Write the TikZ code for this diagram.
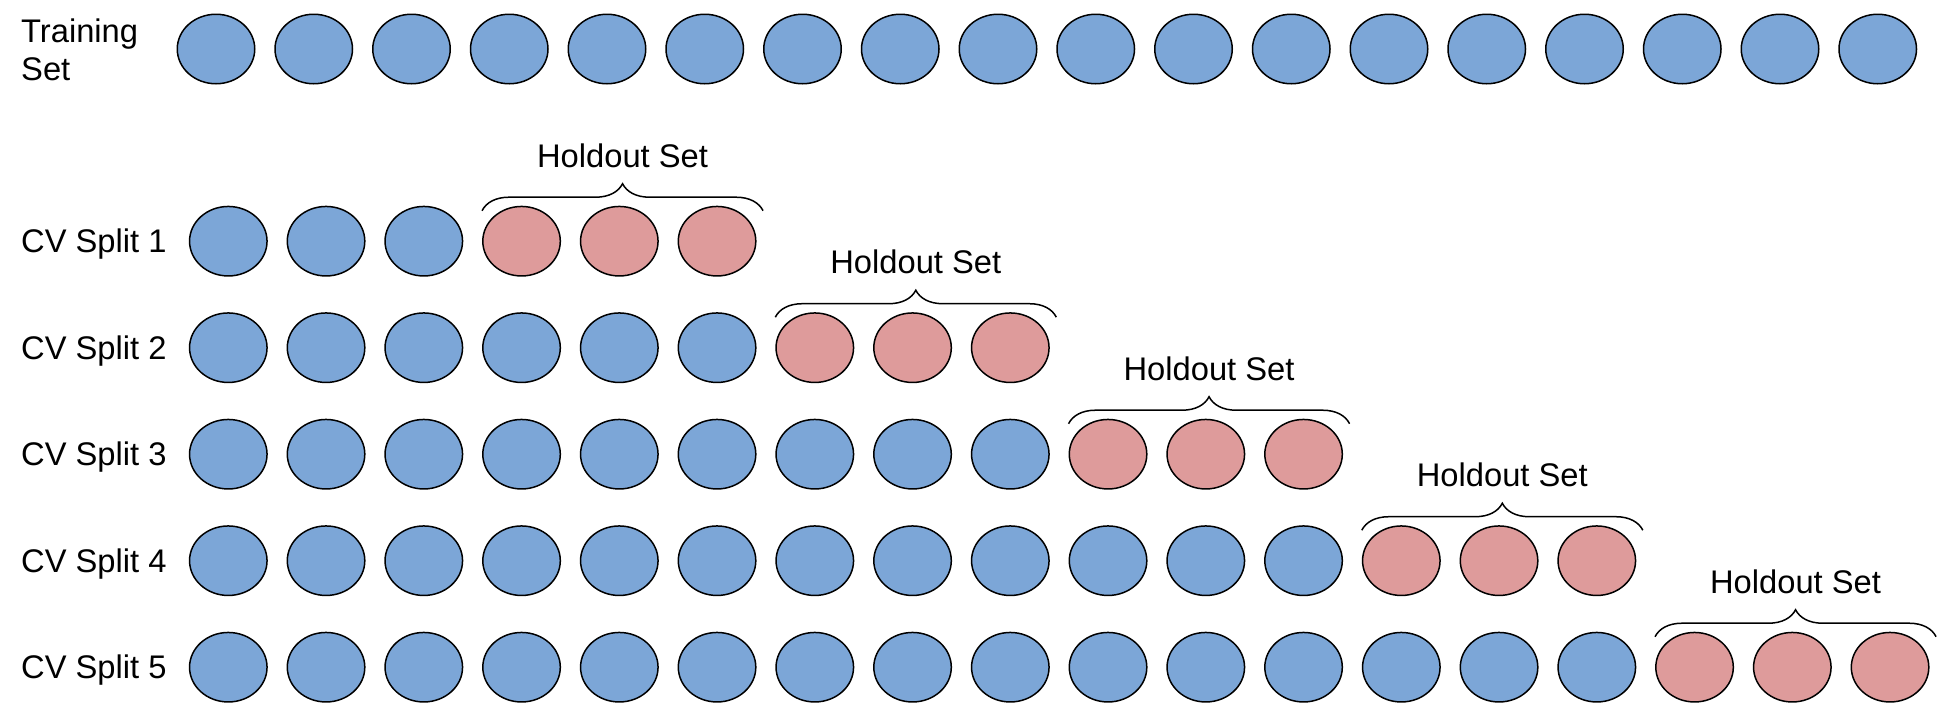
\documentclass[tikz,border=0pt]{standalone}
\usepackage{fontspec}
\setmainfont{Liberation Sans}
\usetikzlibrary{shapes.geometric,decorations.pathreplacing,calc}
\definecolor{cvblue}{RGB}{124,166,215}
\definecolor{cvred}{RGB}{222,155,155}
\begin{document}
\begin{tikzpicture}[x=1pt,y=-1pt,
  dot/.style={ellipse, draw=black, line width=1.5pt, minimum width=77.5pt, minimum height=69.5pt, inner sep=0pt},
  trainpt/.style={dot, fill=cvblue},
  holdpt/.style={dot, fill=cvred},
  lbl/.style={font=\fontsize{32.7}{38}\selectfont, inner sep=0pt},
  hbrace/.style={decorate, decoration={brace, amplitude=27pt}, line width=1.5pt}]
\useasboundingbox (0,0) rectangle (1956,710);
\node[lbl, anchor=base west, align=left] (train) at (21,80) {Training\\Set};
\foreach \i in {0,...,17} \node[trainpt] (t\i) at ({216+\i*97.75},49) {};
\foreach \k in {1,...,5} {
  \pgfmathsetmacro\yy{241.2+(\k-1)*106.5}
  \pgfmathtruncatemacro\hs{3*\k}
  \pgfmathtruncatemacro\hsm{\hs-1}
  \pgfmathtruncatemacro\last{\hs+2}
  \node[lbl, anchor=base west] (cv\k) at (21,\yy+11.5) {CV Split \k};
  \foreach \i in {0,...,\hsm} \node[trainpt] (r\k-\i) at ({228.3+\i*97.75},\yy) {};
  \foreach \i in {\hs,...,\last} \node[holdpt] (r\k-\i) at ({228.3+\i*97.75},\yy) {};
  \coordinate (bl\k) at ($(r\k-\hs.west)+(0,-30.5)$);
  \coordinate (br\k) at ($(r\k-\last.east)+(6.5,-30.5)$);
  \draw[hbrace] (bl\k) -- (br\k);
  \node[lbl, anchor=base] (h\k) at ($(bl\k)!0.5!(br\k)+(0,-43.5)$) {Holdout Set};
}
\end{tikzpicture}
\end{document}
